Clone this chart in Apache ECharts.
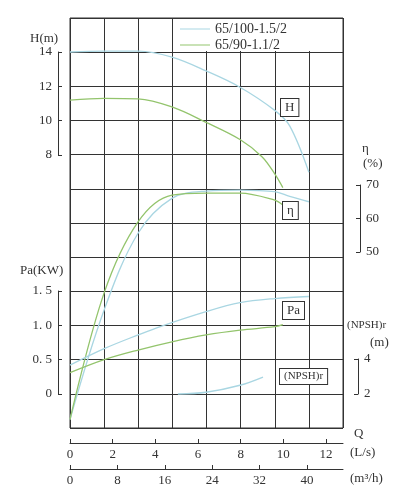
<!DOCTYPE html>
<html><head><meta charset="utf-8">
<script src="https://cdn.jsdelivr.net/npm/echarts@6/dist/echarts.min.js"></script>
<style>html,body{margin:0;padding:0;background:#fff}#c{width:413px;height:500px}</style>
</head><body><div id="c"></div>
<script>
var seriesNames = ['65/100-1.5/2', '65/90-1.1/2'];
// H (m)
var qHBlue = [0, 1.6, 3.2, 4.78, 6.38, 7.97, 9.6, 10.3, 11.2];
var hBlue  = [14.0, 14.05, 14.05, 13.7, 12.9, 11.95, 10.6, 9.7, 7.0];
var qHGreen = [0, 1.6, 3.19, 4.78, 6.38, 7.97, 9.0, 9.6, 9.98];
var hGreen  = [11.2, 11.3, 11.27, 10.8, 9.9, 8.9, 7.9, 6.9, 6.1];
// efficiency (%)
var qEBlue = [0, 1.6, 3.19, 4.78, 6.38, 7.97, 9.6, 10.3, 11.2];
var eBlue  = [0, 32.7, 55.6, 66.0, 68.2, 68.5, 68.0, 66.6, 65.0];
var qEGreen = [0, 1.6, 3.19, 4.78, 6.38, 7.97, 9.6, 9.98];
var eGreen  = [0, 37.8, 59.0, 67.0, 67.6, 67.6, 65.5, 64.0];
// shaft power (kW)
var qPBlue = [0, 1.6, 3.19, 4.3, 6.38, 7.97, 9.6, 11.2];
var pBlue  = [0.42, 0.66, 0.86, 0.99, 1.2, 1.33, 1.39, 1.42];
var qPGreen = [0, 1.6, 3.19, 4.78, 6.38, 7.97, 9.6, 9.98];
var pGreen  = [0.31, 0.5, 0.64, 0.76, 0.86, 0.93, 0.98, 1.01];
// NPSHr (m)
var qNBlue = [5.06, 6.38, 7.97, 9.05];
var nBlue  = [2.0, 2.1, 2.5, 2.97];
// tick labels
var paTicks = ['0', '0. 5', '1. 0', '1. 5'];

var BLUE = '#a9d6e2', GREEN = '#93c46c', INK = '#333';
var FONT = 'Liberation Serif';
function pairs(q, v) { return q.map(function (x, i) { return [x, v[i]]; }); }
function hx(i) { return { gridIndex: i, type: 'value', min: 0, max: 12.8, show: false }; }
var lab = { color: INK, fontFamily: FONT, fontSize: 13 };
function yAx(grid, min, max, interval, pos, offset, fmt) {
  return { gridIndex: grid, type: 'value', min: min, max: max, interval: interval, position: pos, offset: offset,
    axisLine: { show: true, onZero: false, lineStyle: { color: INK } }, axisTick: { show: true, inside: true, length: 4, lineStyle: { color: INK } },
    splitLine: { show: false }, axisLabel: Object.assign({ margin: 6, formatter: fmt }, lab) };
}
function line(name, xi, yi, data, color) {
  return { name: name, type: 'line', xAxisIndex: xi, yAxisIndex: yi, data: data, smooth: 0.35, symbol: 'none', clip: false,
    lineStyle: { color: color, width: 1.3 }, itemStyle: { color: color } };
}
function tx(x, y, t, opt) {
  return { type: 'text', x: x, y: y, z: 70, style: Object.assign({ text: t, fill: INK, font: '13px ' + FONT }, opt || {}) };
}
function box(x, y, t, fs) {
  return { type: 'text', x: x, y: y, z: 70, style: { text: t, fill: INK, font: (fs || 13) + 'px ' + FONT,
    backgroundColor: '#fff', borderColor: '#333', borderWidth: 1, padding: [2, 4] } };
}
var chart = echarts.init(document.getElementById('c'));
chart.setOption({
  animation: false,
  grid: [
    { left: 70, top: 18, width: 273, height: 410, show: true, borderColor: INK, borderWidth: 1 },
    { left: 70, top: 52, width: 273, height: 103 },
    { left: 70, top: 185, width: 273, height: 67 },
    { left: 70, top: 291, width: 273, height: 103 },
    { left: 70, top: 359, width: 273, height: 35 }
  ],
  xAxis: [
    { gridIndex: 0, type: 'value', min: 0, max: 12.8, interval: 2, position: 'bottom', offset: 15,
      axisLine: { onZero: false, lineStyle: { color: INK } }, axisTick: { inside: true, length: 4, lineStyle: { color: INK } },
      splitLine: { show: false }, axisLabel: Object.assign({ margin: 5, showMaxLabel: false }, lab) },
    { gridIndex: 0, type: 'value', min: 0, max: 46.08, interval: 8, position: 'bottom', offset: 41,
      axisLine: { onZero: false, lineStyle: { color: INK } }, axisTick: { inside: true, length: 4, lineStyle: { color: INK } },
      splitLine: { show: false }, axisLabel: Object.assign({ margin: 5, showMaxLabel: false }, lab) },
    { gridIndex: 0, type: 'value', min: 0, max: 12.8, interval: 1.6, show: true, position: 'top',
      axisLine: { show: false }, axisTick: { show: false }, axisLabel: { show: false },
      splitLine: { show: true, lineStyle: { color: INK, width: 1 } } },
    hx(1), hx(2), hx(3), hx(4)
  ],
  yAxis: [
    { gridIndex: 0, type: 'value', min: 0, max: 12, interval: 1, axisLine: { show: false }, axisTick: { show: false },
      axisLabel: { show: false }, splitLine: { show: true, lineStyle: { color: INK, width: 1 } } },
    yAx(1, 8, 14, 2, 'left', 12),
    yAx(2, 50, 70, 10, 'right', 17),
    yAx(3, 0, 1.5, 0.5, 'left', 12, function (v) { return paTicks[Math.round(v * 2)]; }),
    yAx(4, 2, 4, 2, 'right', 15)
  ],
  legend: { data: seriesNames, orient: 'vertical', left: 178, top: 20, itemGap: 2, itemWidth: 30, itemHeight: 1, icon: 'rect',
    z: 60, textStyle: { color: INK, fontFamily: FONT, fontSize: 14 }, padding: 2 },
  graphic: [
    { type: 'rect', shape: { x: 175, y: 19, width: 167, height: 32 }, style: { fill: '#fff' }, z: 50 },
    tx(30, 32, 'H(m)'),
    tx(362, 142, 'η'), tx(363, 157, '(%)'),
    tx(20, 264, 'Pa(KW)'),
    tx(347, 320, '(NPSH)r', { font: '11px ' + FONT }), tx(370, 336, '(m)'),
    tx(354, 427, 'Q'), tx(350, 446, '(L/s)'), tx(350, 472, '(m³/h)'),
    box(281, 99, 'H'), box(283, 202, 'η'), box(283, 302, 'Pa'), box(280, 369, '(NPSH)r', 11)
  ],
  series: [
    line(seriesNames[0], 3, 1, pairs(qHBlue, hBlue), BLUE),
    line(seriesNames[1], 3, 1, pairs(qHGreen, hGreen), GREEN),
    line(seriesNames[0], 4, 2, pairs(qEBlue, eBlue), BLUE),
    line(seriesNames[1], 4, 2, pairs(qEGreen, eGreen), GREEN),
    line(seriesNames[0], 5, 3, pairs(qPBlue, pBlue), BLUE),
    line(seriesNames[1], 5, 3, pairs(qPGreen, pGreen), GREEN),
    line(seriesNames[0], 6, 4, pairs(qNBlue, nBlue), BLUE)
  ]
});
</script></body></html>
